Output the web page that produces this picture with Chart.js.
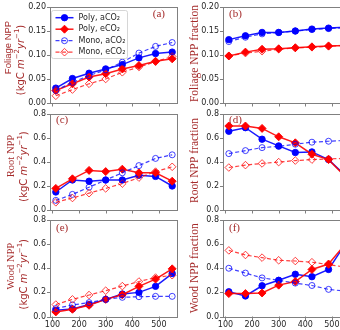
<!DOCTYPE html>
<html>
<head>
<meta charset="utf-8">
<script src="https://cdn.jsdelivr.net/npm/chart.js@4.4.1/dist/chart.umd.min.js"></script>
<style>
  html, body { margin: 0; padding: 0; background: #fff; overflow: hidden; width: 340px; height: 330px; }
  #wrap { position: relative; width: 360px; height: 340px; }
  canvas { position: absolute; }
  .tl { position: absolute; z-index: 10; font: 8px "DejaVu Sans"; line-height: 10px; color: #262626; white-space: nowrap; text-align: right; }
</style>
</head>
<body>
<div id="wrap">
  <canvas id="pa" width="180" height="110" style="left:0;top:0"></canvas>
  <canvas id="pb" width="180" height="110" style="left:180px;top:0"></canvas>
  <canvas id="pc" width="180" height="110" style="left:0;top:107px"></canvas>
  <canvas id="pd" width="180" height="110" style="left:180px;top:107px"></canvas>
  <canvas id="pe" width="180" height="120" style="left:0;top:213px"></canvas>
  <canvas id="pf" width="180" height="120" style="left:180px;top:213px"></canvas>
</div>
<script>
// x positions and tick labels
const xs = [112.5, 175, 237.5, 300, 362.5, 425, 487.5, 550];
const xTicks = [100, 200, 300, 400, 500];
const yTicksFoliage = [0, 0.05, 0.10, 0.15, 0.20];
const yTicksOther = [0, 0.2, 0.4, 0.6, 0.8];
const seriesNames = ['Poly, aCO₂', 'Poly, eCO₂', 'Mono, aCO₂', 'Mono, eCO₂'];

// (a) foliage NPP
const foliagePolyA = [0.031, 0.051, 0.062, 0.071, 0.080, 0.094, 0.103, 0.106];
const foliagePolyE = [0.026, 0.040, 0.054, 0.061, 0.071, 0.078, 0.087, 0.092];
const foliageMonoA = [0.026, 0.043, 0.057, 0.069, 0.085, 0.104, 0.118, 0.126];
const foliageMonoE = [0.015, 0.028, 0.040, 0.050, 0.064, 0.075, 0.086, 0.097];

// (b) foliage NPP fraction
const folFracPolyA = [0.132, 0.140, 0.147, 0.147, 0.150, 0.154, 0.156, 0.158];
const folFracPolyE = [0.098, 0.106, 0.112, 0.113, 0.115, 0.117, 0.119, 0.120];
const folFracMonoA = [0.128, 0.137, 0.144, 0.147, 0.150, 0.153, 0.155, 0.157];
const folFracMonoE = [0.098, 0.104, 0.108, 0.112, 0.115, 0.116, 0.118, 0.120];

// (c) root NPP
const rootPolyA = [0.15, 0.25, 0.24, 0.25, 0.25, 0.29, 0.28, 0.20];
const rootPolyE = [0.18, 0.26, 0.33, 0.32, 0.34, 0.31, 0.31, 0.24];
const rootMonoA = [0.08, 0.13, 0.19, 0.25, 0.31, 0.37, 0.43, 0.46];
const rootMonoE = [0.064, 0.10, 0.14, 0.18, 0.22, 0.27, 0.32, 0.36];

// (d) root NPP fraction
const rootFracPolyA = [0.656, 0.686, 0.59, 0.534, 0.479, 0.484, 0.42, 0.29];
const rootFracPolyE = [0.70, 0.70, 0.68, 0.61, 0.56, 0.465, 0.42, 0.28];
const rootFracMonoA = [0.47, 0.495, 0.52, 0.53, 0.548, 0.565, 0.573, 0.58];
const rootFracMonoE = [0.354, 0.374, 0.388, 0.399, 0.412, 0.42, 0.426, 0.43];

// (e) wood NPP
const woodPolyA = [0.052, 0.063, 0.099, 0.142, 0.186, 0.20, 0.25, 0.356];
const woodPolyE = [0.038, 0.06, 0.093, 0.142, 0.18, 0.25, 0.31, 0.395];
const woodMonoA = [0.066, 0.096, 0.115, 0.142, 0.159, 0.164, 0.167, 0.167];
const woodMonoE = [0.099, 0.142, 0.178, 0.214, 0.252, 0.29, 0.323, 0.342];

// (f) wood NPP fraction
const woodFracPolyA = [0.205, 0.17, 0.255, 0.30, 0.35, 0.33, 0.39, 0.60];
const woodFracPolyE = [0.19, 0.19, 0.195, 0.26, 0.29, 0.39, 0.435, 0.60];
const woodFracMonoA = [0.40, 0.36, 0.32, 0.30, 0.277, 0.257, 0.225, 0.21];
const woodFracMonoE = [0.548, 0.51, 0.488, 0.466, 0.46, 0.45, 0.43, 0.41];

const titleColor = '#a52a2a';
const frameColor = '#808080';
const tickColor = '#262626';
const tickFont = '8px "DejaVu Sans"';
const wrap = document.getElementById('wrap');

const styles = [
  { color: 'rgba(0,0,255,0.9)', fill: '#0000ff', shape: 'circle', r: 3.2, dash: [], w: 1.5 },
  { color: 'rgba(255,0,0,0.9)', fill: '#ff0000', shape: 'rectRot', r: 4, dash: [], w: 1.5 },
  { color: 'rgba(0,0,255,0.75)', fill: 'rgba(0,0,0,0)', shape: 'circle', r: 3, dash: [4, 2.5], w: 1.2 },
  { color: 'rgba(255,0,0,0.75)', fill: 'rgba(0,0,0,0)', shape: 'rectRot', r: 3.8, dash: [4, 2.5], w: 1.2 }
];

const unitSegs = [
  { t: '(kgC ', font: '10px "DejaVu Sans"' },
  { t: 'm', font: 'italic 10px "DejaVu Sans"' },
  { t: '−2', font: '7px "DejaVu Sans"', dy: -3.5 },
  { t: 'yr', font: 'italic 10px "DejaVu Sans"' },
  { t: '−1', font: '7px "DejaVu Sans"', dy: -3.5 },
  { t: ')', font: '10px "DejaVu Sans"' }
];

function drawRotated(ctx, x, cy, segs) {
  ctx.save();
  ctx.translate(x, cy);
  ctx.rotate(-Math.PI / 2);
  ctx.textBaseline = 'middle';
  ctx.textAlign = 'left';
  ctx.fillStyle = titleColor;
  let total = 0;
  for (const s of segs) { ctx.font = s.font; total += ctx.measureText(s.t).width; }
  let cx = -total / 2;
  for (const s of segs) {
    ctx.font = s.font;
    ctx.fillText(s.t, cx, s.dy || 0);
    cx += ctx.measureText(s.t).width;
  }
  ctx.restore();
}

function marker(ctx, st, x, y) {
  ctx.save();
  ctx.beginPath();
  if (st.shape === 'circle') {
    ctx.arc(x, y, st.r, 0, Math.PI * 2);
  } else {
    ctx.moveTo(x, y - st.r); ctx.lineTo(x + st.r, y);
    ctx.lineTo(x, y + st.r); ctx.lineTo(x - st.r, y); ctx.closePath();
  }
  ctx.fillStyle = st.fill; ctx.fill();
  ctx.strokeStyle = st.color; ctx.lineWidth = 1; ctx.stroke();
  ctx.restore();
}

function drawLegend(ctx, a) {
  const x0 = a.left + 1.5, y0 = a.top + 3.5;
  ctx.save();
  ctx.beginPath();
  ctx.roundRect(x0, y0, 76, 48, 2);
  ctx.fillStyle = 'rgba(255,255,255,0.85)'; ctx.fill();
  ctx.strokeStyle = '#cccccc'; ctx.lineWidth = 0.8; ctx.stroke();
  seriesNames.forEach((name, i) => {
    const st = styles[i];
    const y = y0 + 7.2 + i * 11.5;
    ctx.strokeStyle = st.color; ctx.lineWidth = st.w; ctx.setLineDash(st.dash);
    ctx.beginPath(); ctx.moveTo(x0 + 4, y); ctx.lineTo(x0 + 22, y); ctx.stroke();
    ctx.setLineDash([]);
    marker(ctx, st, x0 + 13, y);
    ctx.fillStyle = tickColor; ctx.font = tickFont;
    ctx.textBaseline = 'middle'; ctx.textAlign = 'left';
    ctx.fillText(name, x0 + 27, y);
  });
  ctx.restore();
}

// frame, tick marks and x tick labels, placed with the chart's own scales
function drawAxes(chart, p, bottomRow) {
  const { ctx, chartArea: a } = chart;
  const xS = chart.scales.x, yS = chart.scales.y;
  ctx.save();
  ctx.strokeStyle = frameColor; ctx.lineWidth = 1;
  ctx.strokeRect(Math.round(a.left) + 0.5, Math.round(a.top) + 0.5,
    Math.round(a.right - a.left) - 1, Math.round(a.bottom - a.top));
  ctx.beginPath();
  p.yTicks.forEach(v => {
    const y = Math.round(yS.getPixelForValue(v)) + 0.5;
    ctx.moveTo(a.left - 3, y); ctx.lineTo(a.left + 0.5, y);
  });
  xTicks.forEach(v => {
    const x = Math.round(xS.getPixelForValue(v)) + 0.5;
    ctx.moveTo(x, a.bottom); ctx.lineTo(x, a.bottom + 3.5);
  });
  ctx.stroke();
  if (bottomRow) {
    ctx.fillStyle = tickColor; ctx.font = tickFont;
    ctx.textAlign = 'center'; ctx.textBaseline = 'top';
    xTicks.forEach(v => ctx.fillText(String(v), xS.getPixelForValue(v), a.bottom + 4));
  }
  ctx.restore();
}

// y tick labels as text next to the canvas, at the y scale's pixels
function addYLabels(chart, canvas, p) {
  const a = chart.chartArea, yS = chart.scales.y;
  p.yTicks.forEach(v => {
    const d = document.createElement('div');
    d.className = 'tl';
    d.textContent = v.toFixed(p.dec);
    d.style.right = (360 - (canvas.offsetLeft + a.left - 4)) + 'px';
    d.style.top = (canvas.offsetTop + yS.getPixelForValue(v) - 5) + 'px';
    wrap.appendChild(d);
  });
}

function deco(p, bottomRow) {
  return {
    id: 'deco',
    beforeDatasetsDraw(chart) {
      const { ctx, chartArea: a } = chart;
      ctx.save();
      ctx.fillStyle = titleColor;
      ctx.font = '11px "Liberation Serif"';
      ctx.textBaseline = 'middle';
      if (p.letterRight) { ctx.textAlign = 'right'; ctx.fillText(p.letter, a.right - 13, a.top + 7); }
      else { ctx.textAlign = 'left'; ctx.fillText(p.letter, a.left + 6, a.top + p.letterDy); }
      ctx.restore();
    },
    afterDatasetsDraw(chart) {
      const { ctx, chartArea: a } = chart;
      drawAxes(chart, p, bottomRow);
      const cy = (a.top + a.bottom) / 2;
      p.titles.forEach(t => drawRotated(ctx, t.x, cy + t.dy, t.segs));
      if (p.legend) drawLegend(ctx, a);
    }
  };
}

function panel(id, col, row, p) {
  const left = col === 0;
  const bottomRow = row === 2;
  const yTicks = p.yTicks;
  const canvas = document.getElementById(id);
  const chart = new Chart(canvas, {
    type: 'line',
    data: {
      datasets: p.values.map((vals, i) => ({
        label: seriesNames[i],
        data: xs.map((x, j) => ({ x: x, y: vals[j] })),
        borderColor: styles[i].color,
        backgroundColor: styles[i].fill,
        borderWidth: styles[i].w,
        borderDash: styles[i].dash,
        pointStyle: styles[i].shape,
        pointRadius: styles[i].r,
        pointBorderWidth: 1,
        pointBorderColor: styles[i].color,
        pointBackgroundColor: styles[i].fill,
        order: 3 - i
      }))
    },
    options: {
      responsive: false,
      animation: false,
      events: [],
      layout: { autoPadding: false, padding: { top: 7, right: left ? 2 : 9, left: 0, bottom: 0 } },
      plugins: { legend: { display: false }, tooltip: { enabled: false } },
      scales: {
        x: {
          type: 'linear', min: 90.625, max: 571.875,
          afterBuildTicks: s => { s.ticks = xTicks.map(v => ({ value: v })); },
          afterFit: s => { s.height = bottomRow ? 16.5 : 7; },
          grid: { display: false },
          border: { display: false },
          ticks: { display: false }
        },
        y: {
          type: 'linear',
          min: yTicks[0], max: yTicks[yTicks.length - 1],
          afterBuildTicks: s => { s.ticks = yTicks.map(v => ({ value: v })); },
          afterFit: s => { s.width = left ? 50 : 43; },
          grid: { display: false },
          border: { display: false },
          ticks: { display: false }
        }
      }
    },
    plugins: [deco(p, bottomRow)]
  });
  addYLabels(chart, canvas, p);
  return chart;
}

const fracFont = '11.5px "Liberation Serif"';

panel('pa', 0, 0, {
  values: [foliagePolyA, foliagePolyE, foliageMonoA, foliageMonoE],
  yTicks: yTicksFoliage, dec: 2, letter: '(a)', letterRight: true, legend: true,
  titles: [
    { x: 8, dy: -7.5, segs: [{ t: 'Foliage NPP', font: '9.5px "Liberation Sans"' }] },
    { x: 21, dy: 5, segs: unitSegs }
  ]
});
panel('pb', 1, 0, {
  values: [folFracPolyA, folFracPolyE, folFracMonoA, folFracMonoE],
  yTicks: yTicksFoliage, dec: 2, letter: '(b)', letterDy: 7,
  titles: [{ x: 14.5, dy: -1.5, segs: [{ t: 'Foliage NPP fraction', font: fracFont }] }]
});
panel('pc', 0, 1, {
  values: [rootPolyA, rootPolyE, rootMonoA, rootMonoE],
  yTicks: yTicksOther, dec: 1, letter: '(c)', letterDy: 6,
  titles: [
    { x: 11.5, dy: -6, segs: [{ t: 'Root NPP', font: '10.5px "Liberation Serif"' }] },
    { x: 24, dy: 4.5, segs: unitSegs }
  ]
});
panel('pd', 1, 1, {
  values: [rootFracPolyA, rootFracPolyE, rootFracMonoA, rootFracMonoE],
  yTicks: yTicksOther, dec: 1, letter: '(d)', letterDy: 6,
  titles: [{ x: 14.5, dy: -1.5, segs: [{ t: 'Root NPP fraction', font: fracFont }] }]
});
panel('pe', 0, 2, {
  values: [woodPolyA, woodPolyE, woodMonoA, woodMonoE],
  yTicks: yTicksOther, dec: 1, letter: '(e)', letterDy: 8,
  titles: [
    { x: 11.5, dy: -2, segs: [{ t: 'Wood NPP', font: '10.5px "Liberation Serif"' }] },
    { x: 24, dy: 6, segs: unitSegs }
  ]
});
panel('pf', 1, 2, {
  values: [woodFracPolyA, woodFracPolyE, woodFracMonoA, woodFracMonoE],
  yTicks: yTicksOther, dec: 1, letter: '(f)', letterDy: 8,
  titles: [{ x: 14.5, dy: 0, segs: [{ t: 'Wood NPP fraction', font: fracFont }] }]
});
</script>
</body>
</html>
